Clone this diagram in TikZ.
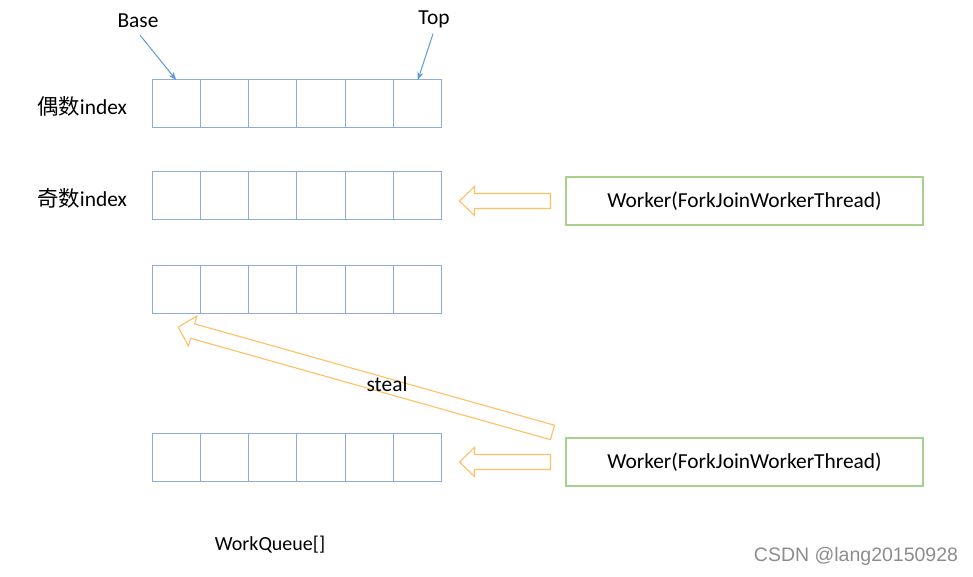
\documentclass[tikz,border=0pt]{standalone}
\usepackage{fontspec}
\setmainfont{Carlito}
\newfontfamily\cjk{Noto Sans CJK SC}
\newfontfamily\wm{Liberation Sans}
\usetikzlibrary{calc,arrows.meta}
\definecolor{cellblue}{RGB}{143,170,220}
\definecolor{ptrblue}{RGB}{91,155,213}
\definecolor{boxgreen}{RGB}{169,209,142}
\definecolor{arrorange}{RGB}{255,192,100}
\newcommand\blockarrow[5]{% tail, tip, half shaft, half head, head length
  \coordinate (ba-c) at ($(#2)!#5!(#1)$);
  \draw[barrow] ($(#1)!#3!90:(#2)$) -- ($(ba-c)!#3!-90:(#1)$) -- ($(ba-c)!#4!-90:(#1)$) -- (#2)
    -- ($(ba-c)!#4!90:(#1)$) -- ($(ba-c)!#3!90:(#1)$) -- ($(#1)!#3!-90:(#2)$) -- cycle;}
\begin{document}
\begin{tikzpicture}[x=1pt,y=-1pt,
  cell/.style={draw=cellblue,line width=1pt,minimum width=48.33pt,minimum height=48pt,inner sep=0pt,outer sep=0pt},
  worker/.style={draw=boxgreen,line width=1.1pt,minimum width=357pt,minimum height=48pt,inner sep=0pt},
  txt/.style={font=\fontsize{21.4}{24}\selectfont,inner sep=0pt},
  ptr/.style={draw=ptrblue,line width=1pt,-{Stealth[length=8pt,width=6pt]}},
  barrow/.style={draw=arrorange,line width=1.1pt,fill=white,line join=miter}]
\useasboundingbox (0,0) rectangle (973,577);
\foreach \r/\y in {1/104,2/196,3/289,4/457}{
  \foreach \c in {1,...,6}{
    \node[cell] (r\r c\c) at ({152+48.33*(\c-0.5)},\y) {};
  }
}
\node[txt] (lbl1) at (82,106) {{\cjk 偶数}index};
\node[txt] (lbl2) at (82,198) {{\cjk 奇数}index};
\node[txt] (base) at (138,21) {Base};
\node[txt] (top) at (434,19) {Top};
\draw[ptr] ($(base.south)+(2,7)$) -- (r1c1.north);
\draw[ptr] ($(top.south)+(-1,6)$) -- (r1c6.north);
\node[worker,txt] (w1) at (744.5,201) {Worker(ForkJoinWorkerThread)};
\node[worker,txt] (w2) at (744.5,462) {Worker(ForkJoinWorkerThread)};
\coordinate (a1t) at ($(w1.west)+(-15,0)$);
\coordinate (a1h) at ($(w1.west)+(-106,0)$);
\coordinate (a2t) at ($(w2.west)+(-15,0)$);
\coordinate (a2h) at ($(w2.west)+(-106,0)$);
\blockarrow{a1t}{a1h}{7.5pt}{14.5pt}{15pt}
\blockarrow{a2t}{a2h}{7.5pt}{14.5pt}{15pt}
\coordinate (st) at ($(w2.north west)+(-13,-5)$);
\coordinate (sh) at ($(r3c1.south)+(2,14)$);
\blockarrow{st}{sh}{7.5pt}{15.4pt}{15pt}
\node[txt] (steal) at (387,384) {steal};
\node[txt,font=\fontsize{20}{22}\selectfont] (wq) at (270,545) {WorkQueue[]};
\node[font=\wm\fontsize{19.5}{22}\selectfont,text=black!45,inner sep=0pt] (wmk) at (856,556) {CSDN @lang20150928};
\end{tikzpicture}
\end{document}
